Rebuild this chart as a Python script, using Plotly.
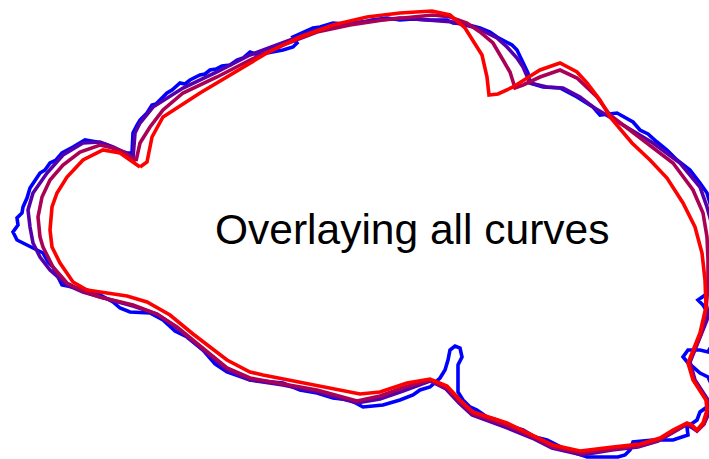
import plotly.graph_objects as go

# Outline traced at four smoothing levels, in screen-like units (y grows downward).
raw_x = [132, 133, 137, 140, 147, 152, 156, 160, 167, 172, 180, 185, 190, 200, 205, 210, 216, 222, 230, 237, 243, 250, 258, 267, 283, 293, 297, 293, 303, 307, 313, 320, 333, 345, 360, 372, 387, 400, 413, 430, 447, 453, 465, 480, 490, 497, 507, 512, 517, 523, 528, 530, 543, 560, 577, 593, 600, 617, 627, 633, 640, 648, 657, 667, 677, 690, 700, 707, 712, 716, 712, 706, 708, 698, 703, 712, 712, 708, 700, 688, 683, 688, 693, 700, 708, 714, 707, 700, 697, 687, 688, 673, 653, 633, 630, 625, 618, 600, 587, 567, 547, 535, 523, 510, 497, 487, 477, 470, 463, 458, 458, 458, 462, 460, 455, 450, 448, 445, 440, 430, 420, 413, 400, 383, 363, 350, 333, 317, 300, 283, 250, 227, 215, 203, 187, 175, 163, 150, 130, 120, 113, 100, 87, 77, 62, 58, 53, 48, 43, 33, 23, 17, 13, 18, 17, 22, 23, 27, 30, 35, 40, 45, 50, 56, 62, 73, 85, 97, 107, 117, 127, 132]
raw_y = [153, 133, 125, 120, 113, 105, 104, 100, 93, 90, 83, 84, 80, 75, 74, 70, 69, 66, 65, 60, 58, 52, 55, 53, 50, 47, 43, 37, 32, 30, 28, 27, 23, 24, 23, 20, 18, 20, 19, 20, 20, 23, 24, 28, 32, 37, 42, 45, 50, 62, 73, 83, 87, 88, 97, 107, 115, 113, 118, 122, 130, 134, 142, 150, 160, 170, 183, 193, 210, 250, 270, 285, 293, 300, 305, 320, 345, 352, 350, 350, 357, 363, 367, 373, 377, 390, 407, 412, 420, 427, 435, 440, 440, 442, 450, 455, 457, 457, 457, 450, 440, 437, 430, 426, 420, 417, 410, 407, 400, 392, 373, 365, 357, 348, 346, 350, 360, 370, 378, 387, 390, 395, 400, 405, 407, 400, 398, 393, 390, 383, 380, 372, 364, 350, 337, 331, 320, 313, 312, 308, 302, 295, 290, 288, 285, 277, 267, 262, 253, 248, 243, 240, 232, 225, 218, 213, 207, 198, 188, 180, 173, 170, 163, 160, 153, 147, 140, 142, 145, 150, 153, 153]

light_x = [133, 135, 140, 153, 183, 217, 250, 283, 317, 350, 400, 453, 477, 497, 507, 517, 523, 530, 547, 563, 580, 593, 603, 627, 653, 680, 700, 707, 712, 714, 712, 707, 701, 690, 695, 708, 709, 704, 697, 691, 686, 672, 658, 638, 612, 582, 552, 532, 505, 472, 459, 446, 430, 403, 380, 357, 317, 283, 250, 227, 200, 177, 157, 133, 100, 83, 67, 50, 40, 33, 30, 28, 33, 47, 63, 83, 100, 113, 130, 133]
light_y = [158, 133, 123, 107, 88, 72, 55, 43, 30, 23, 18, 22, 28, 38, 47, 58, 67, 83, 87, 88, 97, 107, 113, 127, 143, 163, 187, 207, 225, 260, 300, 320, 335, 362, 380, 400, 413, 424, 431, 427, 425, 433, 441, 447, 450, 455, 448, 438, 427, 415, 403, 389, 381, 391, 399, 403, 392, 385, 380, 370, 347, 328, 314, 306, 297, 292, 285, 270, 257, 243, 227, 210, 193, 173, 155, 143, 142, 147, 155, 158]

medium_x = [136, 140, 150, 163, 183, 217, 250, 283, 317, 350, 383, 413, 433, 450, 467, 480, 493, 503, 510, 515, 523, 540, 560, 577, 597, 610, 643, 673, 693, 703, 707, 708, 708, 706, 701, 689, 694, 707, 708, 704, 697, 692, 687, 673, 659, 639, 613, 581, 553, 533, 506, 473, 460, 447, 430, 405, 380, 357, 317, 283, 250, 227, 200, 177, 157, 133, 100, 83, 67, 53, 43, 40, 38, 42, 50, 63, 80, 100, 113, 125, 136]
medium_y = [161, 143, 127, 110, 93, 77, 60, 45, 32, 25, 20, 17, 15, 17, 23, 32, 43, 60, 72, 88, 85, 77, 70, 78, 97, 115, 140, 163, 190, 213, 237, 260, 285, 310, 334, 363, 380, 401, 411, 424, 431, 426, 424, 432, 440, 446, 449, 453, 447, 437, 425, 414, 402, 388, 380, 387, 396, 401, 390, 384, 378, 368, 346, 327, 314, 305, 297, 291, 283, 267, 247, 237, 217, 197, 180, 165, 152, 145, 148, 153, 161]

smooth_x = [140, 147, 152, 163, 200, 233, 267, 300, 333, 367, 400, 432, 450, 465, 482, 487, 489, 498, 513, 540, 560, 577, 587, 600, 610, 632, 650, 667, 683, 695, 702, 705, 706, 700, 688, 693, 706, 707, 703, 697, 692, 687, 673, 660, 640, 613, 580, 553, 533, 507, 473, 460, 447, 430, 407, 380, 360, 323, 290, 263, 250, 227, 193, 170, 147, 127, 107, 87, 73, 60, 52, 50, 52, 57, 67, 83, 103, 120, 140]
smooth_y = [167, 162, 137, 117, 93, 73, 53, 37, 25, 17, 13, 11, 15, 28, 55, 77, 95, 94, 87, 70, 63, 72, 83, 100, 117, 143, 160, 178, 203, 227, 253, 280, 307, 333, 363, 380, 400, 410, 423, 430, 425, 423, 430, 438, 444, 447, 451, 445, 435, 423, 412, 400, 386, 379, 383, 392, 394, 387, 380, 375, 372, 360, 334, 315, 302, 296, 293, 290, 282, 263, 247, 230, 207, 193, 177, 160, 150, 153, 167]

curves = [
    (raw_x, raw_y, "rgb(0,0,255)"),
    (light_x, light_y, "rgb(85,0,170)"),
    (medium_x, medium_y, "rgb(170,0,85)"),
    (smooth_x, smooth_y, "rgb(255,0,0)"),
]

fig = go.Figure()
for xs, ys, color in curves:
    fig.add_trace(go.Scatter(
        x=xs, y=ys, mode="lines",
        line=dict(color=color, width=3.6),
        hoverinfo="skip", showlegend=False,
    ))

fig.add_annotation(
    x=412, y=229, text="Overlaying all curves", showarrow=False,
    font=dict(family="Liberation Sans, Arial, sans-serif", size=42.5, color="black"),
    xanchor="center", yanchor="middle",
)

fig.update_xaxes(range=[0, 709], visible=False)
fig.update_yaxes(range=[459, 0], visible=False)
fig.update_layout(
    width=709, height=459,
    margin=dict(l=0, r=0, t=0, b=0),
    paper_bgcolor="white", plot_bgcolor="white",
)

fig.write_html("out.html")
